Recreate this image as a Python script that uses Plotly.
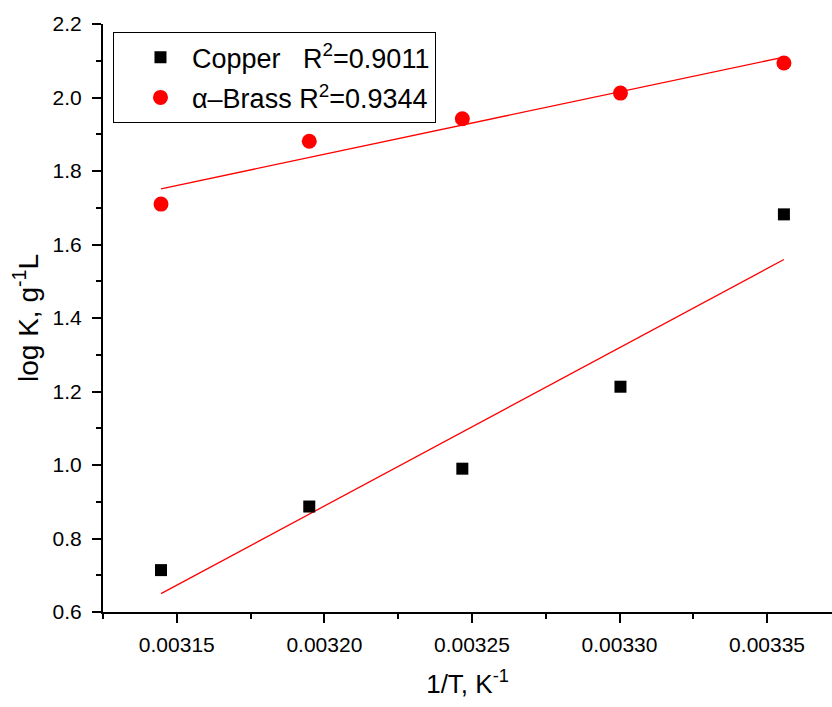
import numpy as np
import plotly.graph_objects as go

# Data
inv_T = [1/318, 1/313, 1/308, 1/303, 1/298]          # 1/T, K^-1
copper_logK = [0.714, 0.887, 0.990, 1.213, 1.682]
brass_logK = [1.710, 1.881, 1.942, 2.012, 2.094]
copper_name = "Copper   R<sup>2</sup>=0.9011"
brass_name = "\u03b1\u2013Brass R<sup>2</sup>=0.9344"

x = np.array(inv_T)

def fit_line(y):
    p = np.polyfit(x, np.array(y), 1)
    return np.polyval(p, x)

FONT = "Arial, Liberation Sans, sans-serif"

fig = go.Figure()
fig.add_trace(go.Scatter(x=x, y=fit_line(copper_logK), mode="lines",
                         line=dict(color="red", width=1.3), showlegend=False,
                         hoverinfo="skip"))
fig.add_trace(go.Scatter(x=x, y=fit_line(brass_logK), mode="lines",
                         line=dict(color="red", width=1.3), showlegend=False,
                         hoverinfo="skip"))
fig.add_trace(go.Scatter(x=x, y=copper_logK, mode="markers", name=copper_name,
                         legendgroup="cu",
                         marker=dict(symbol="square", size=12, color="black")))
fig.add_trace(go.Scatter(x=x, y=brass_logK, mode="markers", name=brass_name,
                         legendgroup="br",
                         marker=dict(symbol="circle", size=15, color="red")))

axis_common = dict(
    showline=True, linecolor="black", linewidth=2, mirror=False,
    showgrid=False, zeroline=False,
    ticks="outside", ticklen=9, tickwidth=2, tickcolor="black",
    tickfont=dict(family=FONT, size=21, color="black"),
)

fig.update_xaxes(
    range=[0.003125, 0.003372], tick0=0.00315, dtick=0.00005, tickformat=".5f",
    minor=dict(ticks="outside", ticklen=5, tickwidth=2, tickcolor="black", dtick=0.000025, tick0=0.003125),
    title=dict(text="1/T, K<sup>-1</sup>", font=dict(family=FONT, size=26, color="black"), standoff=20),
    ticklabelstandoff=4,
    **axis_common,
)
fig.update_yaxes(
    range=[0.6, 2.2], tick0=0.6, dtick=0.2, tickformat=".1f",
    minor=dict(ticks="outside", ticklen=5, tickwidth=2, tickcolor="black", dtick=0.1, tick0=0.6),
    title=dict(text="log K, g<sup>-1</sup>L", font=dict(family=FONT, size=28, color="black"), standoff=6),
    ticklabelstandoff=6,
    **axis_common,
)

fig.update_layout(
    width=832, height=707,
    margin=dict(l=103, r=0, t=24, b=95),
    plot_bgcolor="white", paper_bgcolor="white",
    font=dict(family=FONT, color="black"),
    legend=dict(
        x=0.0137, y=0.986, xanchor="left", yanchor="top",
        bordercolor="black", borderwidth=1, bgcolor="white",
        font=dict(family=FONT, size=27, color="black"),
        itemwidth=53, indentation=15,
        traceorder="grouped", tracegroupgap=2,
    ),
)

fig.write_html("out.html")
